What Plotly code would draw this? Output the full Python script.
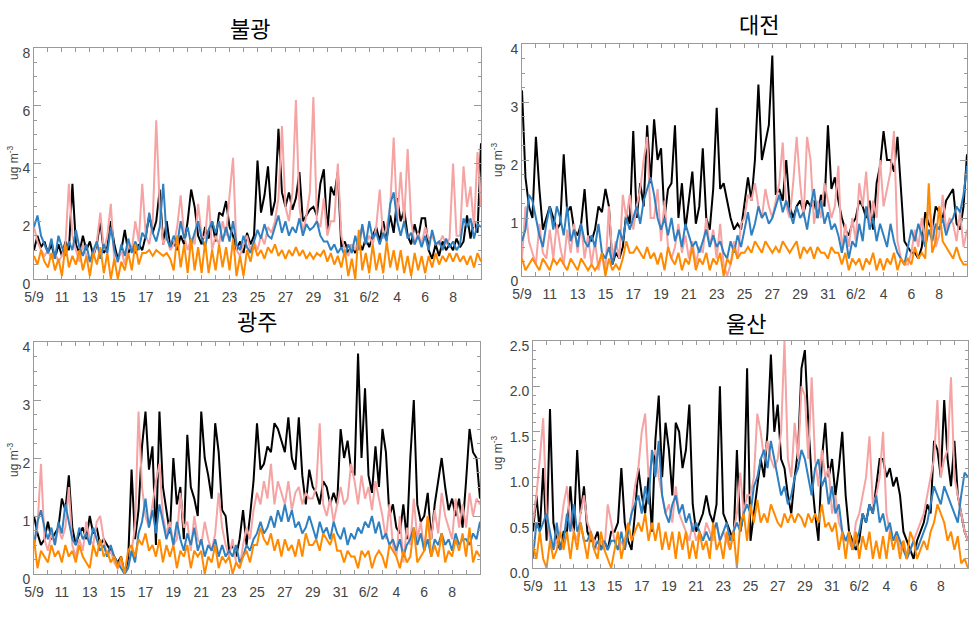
import numpy as np
import plotly.graph_objects as go

# ---------------- data (6-hourly values, starting 5/9 00:00) ----------------
titles = ["불광", "대전", "광주", "울산"]
tick_days = list(range(0, 33))
tick_labels = ["5/9", "", "11", "", "13", "", "15", "", "17", "", "19", "", "21", "", "23", "",
               "25", "", "27", "", "29", "", "31", "", "6/2", "", "4", "", "6", "", "8", "", ""]
colors = {"black": "#000000", "pink": "#F5A3A3", "blue": "#2F80C0", "orange": "#FF8A00"}

bul_black = [1.0, 1.5, 1.1, 1.3, 0.9, 1.2, 0.7, 1.2, 0.8, 1.3, 1.0, 3.3, 1.2, 0.9, 1.5, 1.0,
             1.3, 0.8, 1.2, 2.0, 0.9, 1.1, 2.0, 1.2, 0.7, 1.0, 1.7, 0.9, 1.1, 0.9, 1.2, 1.0,
             1.5, 2.2, 1.6, 2.0, 3.1, 1.2, 2.0, 1.1, 1.3, 1.0, 1.5, 1.2, 2.0, 3.1, 2.5, 1.5,
             1.2, 1.8, 1.4, 2.0, 1.3, 2.3, 2.2, 2.7, 1.8, 1.5, 1.0, 1.3, 0.9, 1.6, 1.2, 1.5,
             4.1, 2.3, 2.9, 3.9, 2.2, 2.7, 5.2, 3.0, 2.5, 3.0, 2.4, 2.8, 3.7, 2.0, 2.2, 2.4,
             2.5, 2.2, 3.3, 3.8, 1.6, 3.2, 2.9, 3.7, 1.1, 1.3, 0.9, 1.2, 0.9, 1.3, 1.0, 1.4,
             1.1, 1.5, 1.8, 1.3, 2.0, 1.4, 2.2, 1.6, 2.8, 2.0, 2.4, 1.5, 1.2, 1.9, 1.4, 2.1,
             2.1, 1.0, 0.7, 1.2, 0.8, 1.3, 1.0, 1.2, 1.0, 1.4, 1.1, 1.3, 2.2, 1.4, 2.0, 1.6,
             4.7]
bul_pink = [1.8, 1.3, 1.0, 0.8, 1.0, 0.7, 0.9, 0.6, 0.8, 1.2, 3.3, 1.5, 1.0, 0.6, 1.2, 0.8,
            0.6, 0.8, 1.3, 2.3, 1.0, 1.5, 2.6, 0.6, 0.6, 1.0, 0.5, 1.2, 1.0, 2.0, 1.3, 3.3,
            1.5, 1.2, 2.0, 5.5, 2.5, 1.2, 1.5, 1.0, 1.2, 1.8, 2.9, 1.5, 1.0, 1.4, 1.2, 2.6,
            1.5, 1.4, 2.9, 1.0, 1.5, 1.2, 2.0, 1.5, 2.9, 4.2, 1.0, 0.8, 1.2, 1.5, 1.0, 1.3,
            1.0, 1.5, 1.2, 1.8, 1.6, 2.0, 2.8, 5.3, 2.5, 2.0, 3.0, 6.2, 2.5, 1.6, 2.2, 3.0,
            6.3, 2.0, 1.8, 2.8, 1.5, 2.0, 2.0, 4.0, 1.5, 1.0, 0.8, 1.2, 1.0, 1.5, 1.8, 1.2,
            1.5, 1.2, 1.8, 3.1, 1.4, 1.8, 2.5, 4.9, 2.0, 3.7, 2.0, 4.5, 2.0, 1.2, 1.6, 1.2,
            1.8, 1.4, 1.5, 1.2, 1.2, 1.5, 1.2, 1.4, 4.0, 1.5, 1.5, 3.9, 2.5, 3.2, 1.8, 4.4,
            2.5]
bul_blue = [1.8, 2.2, 1.5, 1.2, 0.9, 1.4, 0.7, 1.5, 1.1, 0.8, 1.3, 1.0, 1.7, 1.1, 0.8, 1.2,
            0.6, 1.0, 1.3, 0.7, 1.2, 0.9, 1.8, 1.0, 0.6, 1.2, 0.8, 1.4, 0.9, 1.3, 1.0, 1.6,
            1.4, 2.3, 1.6, 1.3, 1.8, 3.3, 1.4, 1.1, 1.5, 1.2, 2.0, 1.4, 1.8, 1.2, 1.6, 2.0,
            1.4, 1.1, 1.7, 2.0, 1.6, 2.0, 1.3, 1.8, 1.3, 2.0, 1.2, 1.0, 1.5, 1.1, 0.9, 1.3,
            1.7, 1.4, 1.9, 1.5, 1.4, 1.8, 2.2, 1.6, 2.0, 1.5, 1.8, 1.6, 2.1, 1.5, 1.9, 1.7,
            1.8, 2.0, 1.5, 1.3, 1.3, 1.0, 1.2, 0.9, 1.1, 0.8, 1.2, 0.9, 1.5, 1.0, 1.9, 1.2,
            2.0, 1.4, 1.6, 1.2, 1.6, 1.3, 2.6, 3.0, 2.0, 1.5, 2.0, 1.4, 1.6, 1.2, 1.5, 1.1,
            1.5, 1.0, 1.7, 1.2, 1.3, 1.0, 1.4, 1.1, 1.3, 1.0, 1.2, 2.1, 1.8, 2.1, 1.4, 1.9,
            1.8]
bul_orange = [0.8, 0.5, 1.0, 0.6, 0.4, 0.9, 0.3, 0.7, 0.1, 1.2, 0.4, 0.8, 0.5, 1.0, 0.3, 0.8,
              0.1, 0.9, 0.5, 1.1, 0.2, 0.9, 0.0, 0.7, 0.0, 0.6, 0.3, 0.9, 0.3, 1.2, 0.5, 0.9,
              0.9, 1.0, 0.8, 1.0, 0.9, 0.8, 0.9, 0.7, 0.3, 1.5, 0.4, 1.2, 0.2, 1.4, 0.3, 1.1,
              0.2, 1.3, 0.2, 1.0, 0.3, 1.2, 0.4, 1.1, 0.3, 1.4, 0.1, 0.8, 0.1, 1.0, 0.6, 1.2,
              0.8, 1.0, 0.7, 1.1, 0.9, 1.2, 0.8, 1.0, 0.7, 1.0, 0.8, 1.1, 0.8, 1.0, 0.7, 0.9,
              0.7, 0.9, 0.8, 1.0, 0.6, 0.9, 0.5, 0.8, 0.4, 1.0, 0.1, 0.7, 0.0, 1.7, 0.3, 0.9,
              0.2, 1.2, 0.3, 0.9, 0.2, 1.3, 0.4, 1.0, 0.3, 1.0, 0.2, 0.8, 0.1, 0.9, 0.3, 0.8,
              0.2, 0.8, 0.4, 0.9, 0.5, 0.8, 0.6, 0.9, 0.6, 0.9, 0.6, 0.8, 0.5, 0.8, 0.4, 0.9,
              0.6]

dae_black = [3.2, 1.7, 1.2, 1.0, 2.4, 1.5, 0.8, 1.0, 1.2, 1.0, 0.8, 0.9, 2.1, 1.1, 1.2, 0.8,
             0.7, 0.9, 1.5, 0.7, 0.6, 0.8, 1.2, 1.1, 1.5, 1.2, 0.2, 0.4, 0.3, 0.5, 1.1, 0.9,
             2.5, 1.0, 1.6, 1.2, 2.6, 1.6, 2.7, 2.0, 2.2, 1.0, 1.5, 1.6, 2.6, 1.0, 1.6, 0.8,
             1.3, 1.8, 0.9, 1.2, 2.2, 1.0, 0.8, 1.5, 2.9, 1.5, 1.6, 1.3, 1.0, 0.8, 0.9, 0.8,
             1.3, 1.7, 1.3, 2.0, 3.3, 2.0, 2.3, 2.6, 3.8, 1.4, 1.5, 1.3, 2.0, 1.2, 1.0, 1.2,
             1.3, 1.1, 1.3, 1.2, 1.3, 1.0, 1.4, 1.2, 2.6, 1.5, 1.7, 1.3, 1.0, 0.8, 0.7, 0.9,
             1.0, 1.3, 1.2, 1.0, 1.3, 0.8, 1.6, 1.9, 2.5, 2.0, 2.0, 1.8, 2.4, 1.5, 0.6, 0.5,
             0.4, 0.4, 0.3, 0.5, 1.1, 0.9, 0.8, 1.2, 1.1, 1.0, 1.3, 1.4, 1.5, 0.9, 0.8, 1.2,
             2.1]
dae_pink = [0.3, 1.2, 0.6, 0.4, 0.2, 0.9, 0.4, 0.3, 0.8, 0.3, 0.9, 0.5, 0.2, 0.8, 0.4, 0.9,
            0.4, 0.9, 0.3, 0.7, 0.2, 0.6, 0.1, 0.4, 0.1, 1.2, 0.3, 0.6, 0.3, 1.4, 1.0, 1.4,
            0.8, 1.2, 1.5, 2.0, 2.4, 1.0, 1.0, 1.5, 0.6, 1.3, 0.5, 0.3, 0.5, 0.9, 0.4, 0.7,
            0.3, 0.6, 0.2, 0.5, 0.4, 1.0, 0.5, 0.8, 0.3, 0.9, 0.2, 0.0, 0.2, 0.6, 0.3, 0.9,
            1.0, 1.4, 1.3, 1.6, 1.2, 1.0, 1.5, 1.2, 1.0, 1.3, 1.6, 2.3, 1.2, 1.0, 1.6, 2.4,
            1.6, 1.0, 2.4, 2.0, 0.9, 1.3, 1.0, 1.6, 1.3, 1.0, 1.2, 1.9, 0.4, 0.9, 0.5, 1.0,
            0.6, 1.6, 1.2, 1.8, 0.9, 1.3, 1.0, 2.0, 1.2, 1.5, 1.8, 2.5, 0.6, 0.3, 0.2, 0.2,
            0.4, 0.8, 0.5, 1.0, 0.6, 1.2, 0.9, 0.5, 0.7, 1.4, 0.8, 1.0, 0.9, 0.6, 1.1, 0.5,
            0.8]
dae_blue = [0.6, 0.8, 1.4, 1.3, 1.0, 0.7, 0.5, 0.9, 1.2, 0.8, 1.2, 1.0, 0.7, 1.2, 0.6, 0.8,
            0.5, 0.9, 0.6, 0.5, 0.7, 0.5, 0.9, 0.4, 0.3, 0.5, 0.2, 0.5, 0.8, 0.6, 1.0, 0.8,
            1.0, 1.2, 0.9, 1.3, 1.5, 1.7, 1.4, 1.0, 0.8, 1.0, 0.7, 1.0, 0.6, 0.8, 0.5, 0.9,
            0.7, 0.5, 0.6, 0.4, 0.6, 0.8, 0.5, 0.7, 0.5, 0.6, 0.4, 0.3, 0.6, 0.4, 0.7, 0.5,
            0.8, 1.1, 0.7, 0.9, 1.2, 1.0, 1.1, 0.9, 1.0, 1.2, 1.4, 1.1, 1.3, 1.1, 0.9, 1.2,
            1.0, 1.1, 0.8, 1.2, 1.5, 1.0, 1.3, 0.9, 1.1, 0.8, 0.9, 0.7, 0.4, 0.7, 0.3, 0.6,
            0.5, 0.9, 0.6, 1.2, 0.8, 1.0, 0.6, 0.9, 0.7, 0.5, 0.9, 0.6, 0.4, 0.3, 0.2, 0.5,
            0.8, 0.6, 0.9, 0.7, 0.5, 0.8, 0.6, 0.9, 0.8, 1.0, 0.7, 0.9, 1.0, 1.2, 1.1, 1.4,
            1.9]
dae_orange = [0.3, 0.1, 0.2, 0.3, 0.2, 0.1, 0.3, 0.2, 0.1, 0.3, 0.2, 0.3, 0.2, 0.1, 0.3, 0.2,
              0.1, 0.3, 0.2, 0.1, 0.2, 0.1, 0.2, 0.4, 0.0, 0.3, 0.1, 0.2, 0.1, 0.3, 0.6, 0.4,
              0.4, 0.5, 0.4, 0.3, 0.5, 0.3, 0.4, 0.2, 0.4, 0.1, 0.5, 0.3, 0.2, 0.4, 0.1, 0.3,
              0.2, 0.5, 0.1, 0.3, 0.2, 0.4, 0.1, 0.3, 0.2, 0.4, 0.0, 0.3, 0.2, 0.5, 0.3, 0.4,
              0.4, 0.5, 0.4, 0.6, 0.5, 0.4, 0.6, 0.5, 0.4, 0.5, 0.4, 0.6, 0.5, 0.4, 0.5, 0.6,
              0.3, 0.5, 0.4, 0.5, 0.3, 0.5, 0.4, 0.4, 0.3, 0.5, 0.4, 0.4, 0.2, 0.4, 0.1, 0.3,
              0.2, 0.3, 0.1, 0.3, 0.2, 0.4, 0.1, 0.3, 0.1, 0.3, 0.2, 0.4, 0.1, 0.3, 0.2, 0.3,
              0.2, 0.5, 0.3, 0.4, 0.3, 1.6, 0.4, 0.6, 1.2, 0.6, 0.5, 0.4, 0.3, 0.5, 0.3, 0.2,
              0.2]

gwa_black = [1.0, 0.7, 0.5, 0.6, 0.9, 0.6, 0.7, 0.8, 1.3, 1.1, 1.7, 0.8, 0.5, 0.7, 0.8, 0.6,
             1.0, 0.7, 0.8, 0.5, 0.6, 0.5, 0.4, 0.3, 0.2, 0.3, 0.0, 0.2, 1.8, 0.6, 1.1, 2.2,
             2.8, 1.8, 2.2, 0.5, 2.8, 1.5, 1.1, 0.7, 2.0, 1.2, 1.5, 0.6, 2.4, 1.5, 1.3, 1.0,
             2.8, 2.0, 1.7, 1.3, 2.6, 2.1, 1.1, 1.0, 0.4, 0.5, 0.3, 0.6, 1.1, 0.5, 1.0, 1.6,
             2.6, 1.8, 1.9, 2.2, 2.1, 2.6, 2.5, 2.3, 2.1, 2.7, 2.0, 1.8, 2.7, 1.7, 1.2, 1.8,
             1.5, 1.4, 1.2, 1.6, 1.5, 1.2, 1.4, 1.2, 2.5, 2.0, 2.3, 1.8, 1.7, 3.8, 2.0, 3.2,
             1.7, 1.4, 2.2, 1.5, 2.5, 2.1, 1.0, 1.2, 0.8, 0.7, 1.2, 0.6, 2.0, 3.0, 1.2, 0.9,
             1.0, 1.4, 0.6, 1.2, 1.6, 2.0, 1.5, 1.1, 1.3, 1.0, 1.3, 0.8, 1.6, 2.5, 2.1, 2.0,
             1.3]
gwa_pink = [0.5, 0.8, 1.9, 0.6, 0.4, 0.7, 0.5, 0.8, 0.6, 0.8, 1.5, 0.5, 0.3, 0.6, 0.4, 0.9,
            0.6, 0.5, 0.9, 1.0, 0.6, 0.3, 0.4, 0.2, 0.1, 0.2, 0.0, 0.1, 0.4, 0.8, 2.8, 1.5,
            1.0, 0.8, 1.2, 1.6, 1.9, 1.0, 0.7, 0.9, 0.5, 0.6, 1.4, 0.8, 0.9, 0.4, 1.0, 0.6,
            0.5, 0.9, 0.6, 0.4, 0.7, 1.4, 0.8, 0.5, 0.3, 0.6, 0.2, 0.1, 0.5, 0.8, 0.6, 1.1,
            1.4, 1.2, 1.6, 1.3, 1.9, 1.2, 1.6, 1.4, 1.2, 1.6, 1.1, 1.4, 1.5, 1.2, 1.4, 1.3,
            1.3, 1.5, 2.6, 1.2, 1.0, 1.3, 0.9, 1.2, 1.5, 1.2, 1.3, 1.9, 1.6, 1.2, 1.7, 1.3,
            1.5, 1.1, 1.6, 1.3, 1.0, 0.6, 1.2, 0.5, 0.3, 1.0, 0.2, 0.8, 0.5, 1.3, 0.6, 0.9,
            0.4, 1.0, 0.6, 1.1, 0.7, 1.4, 1.0, 0.8, 0.6, 1.3, 0.8, 1.2, 0.8, 1.4, 1.0, 1.3,
            1.2]
gwa_blue = [0.5, 0.9, 1.1, 0.8, 0.6, 0.8, 0.5, 0.9, 0.7, 1.2, 0.9, 0.6, 0.5, 0.8, 0.6, 0.7,
            0.5, 0.8, 0.6, 0.4, 0.5, 0.3, 0.5, 0.3, 0.2, 0.1, 0.0, 0.1, 0.4, 0.2, 0.7, 0.9,
            1.3, 0.8, 1.1, 0.7, 1.2, 0.9, 0.6, 0.8, 0.5, 0.9, 0.6, 0.4, 0.7, 0.5, 0.8, 0.4,
            0.6, 0.3, 0.5, 0.4, 0.6, 0.3, 0.5, 0.3, 0.4, 0.3, 0.5, 0.2, 0.3, 0.5, 0.4, 0.6,
            0.7, 0.9, 0.7, 0.8, 1.0, 0.8, 1.1, 0.9, 1.2, 0.9, 1.1, 0.8, 0.9, 0.7, 0.8, 1.0,
            0.8, 0.6, 0.9, 0.7, 0.8, 0.6, 0.9, 0.7, 0.6, 0.8, 0.5, 0.7, 0.6, 0.8, 0.7, 0.9,
            0.8, 1.0, 0.7, 0.9, 0.6, 0.7, 0.5, 0.6, 0.4, 0.6, 0.3, 0.5, 0.6, 0.8, 0.5, 0.7,
            0.4, 0.6, 0.3, 0.6, 0.5, 0.7, 0.5, 0.6, 0.4, 0.7, 0.5, 0.6, 0.6, 0.5, 0.7, 0.6,
            0.9]
gwa_orange = [0.6, 0.1, 0.4, 0.3, 0.2, 0.5, 0.3, 0.4, 0.2, 0.5, 0.3, 0.4, 0.2, 0.5, 0.3, 0.2,
              0.1, 0.5, 0.3, 0.6, 0.3, 0.4, 0.2, 0.3, 0.1, 0.3, 0.0, 0.4, 0.5, 0.3, 0.6, 0.5,
              0.7, 0.4, 0.5, 0.3, 0.6, 0.2, 0.5, 0.3, 0.5, 0.1, 0.4, 0.3, 0.5, 0.1, 0.4, 0.3,
              0.4, 0.0, 0.3, 0.2, 0.5, 0.1, 0.3, 0.2, 0.3, 0.0, 0.2, 0.1, 0.3, 0.4, 0.2, 0.5,
              0.5, 0.8, 0.6, 0.5, 0.7, 0.4, 0.6, 0.3, 0.6, 0.4, 0.5, 0.3, 0.6, 0.3, 0.7, 0.5,
              0.5, 0.6, 0.4, 0.7, 0.6, 0.5, 0.7, 0.4, 0.4, 0.2, 0.4, 0.3, 0.3, 0.1, 0.4, 0.3,
              0.4, 0.1, 0.3, 0.4, 0.3, 0.1, 0.5, 0.4, 0.3, 0.1, 0.4, 0.2, 0.3, 0.8, 0.2, 0.3,
              0.4, 1.0, 0.3, 0.5, 0.3, 0.7, 0.2, 0.4, 0.3, 0.6, 0.4, 0.7, 0.3, 0.8, 0.2, 0.4,
              0.3]

uls_black = [0.4, 0.8, 0.4, 1.1, 0.3, 1.75, 0.5, 0.3, 0.2, 0.4, 0.4, 0.9, 0.4, 1.3, 0.6, 0.9,
             0.4, 0.3, 0.3, 0.4, 0.2, 0.3, 0.2, 0.4, 0.4, 0.5, 1.1, 0.5, 0.3, 0.2, 0.6, 1.1,
             0.8, 0.6, 1.0, 0.4, 1.4, 1.9, 1.0, 1.6, 1.3, 0.8, 1.6, 1.5, 1.1, 1.3, 1.8, 0.7,
             0.4, 0.5, 0.6, 0.8, 0.6, 0.5, 0.7, 2.0, 0.6, 0.5, 0.4, 0.3, 1.3, 0.4, 0.6, 2.2,
             0.3, 0.6, 0.9, 1.2, 1.0, 1.5, 2.35, 1.5, 1.8, 1.2, 1.1, 0.8, 0.6, 1.0, 1.3, 2.2,
             2.4, 1.6, 1.0, 0.6, 0.3, 1.2, 1.6, 1.0, 1.2, 0.8, 1.1, 1.5, 0.8, 0.4, 0.3, 0.2,
             0.3, 0.6, 0.5, 0.7, 0.6, 0.9, 1.2, 1.2, 1.0, 1.1, 0.9, 1.0, 0.8, 0.4, 0.3, 0.2,
             0.1, 0.3, 0.4, 0.5, 0.7, 0.6, 1.4, 1.3, 1.0, 1.85, 1.2, 0.9, 1.4, 0.8, 0.6, 0.4,
             0.3]
uls_pink = [0.5, 0.8, 1.2, 1.65, 0.6, 0.3, 0.2, 0.3, 0.4, 0.7, 0.9, 0.5, 0.4, 0.3, 0.6, 0.8,
            0.5, 0.4, 0.3, 0.2, 0.3, 0.2, 0.7, 0.5, 0.3, 0.2, 0.3, 0.2, 0.4, 0.6, 0.9, 1.1,
            1.5, 1.7, 1.0, 1.2, 1.3, 1.0, 0.8, 0.6, 0.7, 0.5, 0.9, 0.6, 0.5, 0.4, 0.3, 0.5,
            0.3, 0.4, 0.3, 0.5, 0.4, 0.3, 0.5, 0.3, 0.4, 0.3, 0.2, 0.4, 0.6, 1.05, 0.6, 0.8,
            0.8, 1.0, 1.7, 1.5, 1.2, 1.4, 1.2, 1.1, 1.2, 1.5, 2.5, 1.2, 1.0, 1.6, 1.2, 2.0,
            1.9, 1.2, 2.1, 1.2, 0.9, 1.3, 1.0, 1.1, 0.6, 0.8, 0.5, 0.4, 0.3, 0.3, 0.2, 0.5,
            0.6, 0.8, 1.0, 1.45, 0.7, 0.8, 1.0, 1.5, 0.6, 0.4, 0.3, 0.4, 0.2, 0.3, 0.1, 0.2,
            0.3, 0.4, 0.5, 0.6, 0.8, 1.0, 1.2, 1.85, 1.0, 1.2, 1.3, 2.1, 1.0, 0.8, 0.6, 0.4,
            0.3]
uls_blue = [0.1, 0.5, 0.4, 0.5, 0.6, 0.4, 0.2, 0.5, 0.2, 0.3, 0.6, 0.4, 0.7, 0.4, 0.5, 0.3,
            0.3, 0.4, 0.2, 0.3, 0.2, 0.3, 0.2, 0.3, 0.3, 0.2, 0.4, 0.2, 0.4, 0.6, 0.7, 0.8,
            0.6, 0.9, 0.7, 1.3, 1.0, 1.4, 0.8, 0.6, 0.5, 0.7, 0.8, 0.6, 0.7, 0.5, 0.6, 0.4,
            0.5, 0.4, 0.3, 0.4, 0.3, 0.4, 0.5, 0.3, 0.4, 0.5, 0.3, 0.4, 0.5, 0.4, 0.6, 0.7,
            0.6, 0.9, 1.0, 1.2, 1.3, 1.1, 1.4, 1.2, 1.0, 0.8, 0.9, 0.7, 0.8, 1.0, 1.1, 1.3,
            1.2, 1.0, 0.8, 1.1, 1.2, 0.9, 1.0, 0.7, 0.9, 0.6, 0.7, 0.4, 0.3, 0.4, 0.2, 0.3,
            0.4, 0.6, 0.5, 0.7, 0.6, 0.8, 0.5, 0.6, 0.4, 0.5, 0.3, 0.4, 0.3, 0.2, 0.1, 0.2,
            0.3, 0.2, 0.3, 0.4, 0.5, 0.7, 0.9, 0.8, 0.7, 0.9, 0.8, 0.7, 0.6, 0.5, 0.8, 1.05,
            1.0]
uls_orange = [0.25, 0.1, 0.4, 0.1, 0.0, 0.3, 0.1, 0.2, 0.4, 0.2, 0.4, 0.1, 0.4, 0.2, 0.5, 0.3,
              0.1, 0.4, 0.2, 0.1, 0.4, 0.2, 0.1, 0.0, 0.2, 0.4, 0.1, 0.3, 0.5, 0.3, 0.4, 0.5,
              0.4, 0.6, 0.3, 0.5, 0.3, 0.5, 0.2, 0.4, 0.2, 0.4, 0.1, 0.4, 0.2, 0.4, 0.1, 0.3,
              0.1, 0.4, 0.2, 0.3, 0.1, 0.5, 0.2, 0.3, 0.1, 0.4, 0.2, 0.4, 0.0, 0.5, 0.6, 0.3,
              0.7, 0.5, 0.75, 0.5, 0.6, 0.5, 0.7, 0.6, 0.5, 0.45, 0.6, 0.5, 0.6, 0.5, 0.6, 0.55,
              0.45, 0.6, 0.5, 0.6, 0.5, 0.7, 0.45, 0.5, 0.4, 0.5, 0.2, 0.4, 0.1, 0.4, 0.2, 0.4,
              0.1, 0.35, 0.2, 0.4, 0.1, 0.3, 0.1, 0.35, 0.1, 0.4, 0.2, 0.35, 0.1, 0.3, 0.1, 0.4,
              0.3, 0.1, 0.2, 0.3, 0.2, 0.4, 0.5, 0.7, 0.6, 0.5, 0.3, 0.4, 0.2, 0.35, 0.05, 0.1,
              0.0]

panels = [
    dict(title=titles[0], series=[bul_black, bul_pink, bul_blue, bul_orange], yrange=[0, 8], dtick=2, minor=0.5, fmt="d"),
    dict(title=titles[1], series=[dae_black, dae_pink, dae_blue, dae_orange], yrange=[0, 4], dtick=1, minor=0.25, fmt="d"),
    dict(title=titles[2], series=[gwa_black, gwa_pink, gwa_blue, gwa_orange], yrange=[0, 4], dtick=1, minor=0.25, fmt="d"),
    dict(title=titles[3], series=[uls_black, uls_pink, uls_blue, uls_orange], yrange=[0, 2.5], dtick=0.5, minor=0.1, fmt=".1f"),
]

# ---------------- layout geometry (pixels) ----------------
W, H = 974, 636
boxes = [(34, 481, 48, 279), (522, 967, 44, 276), (34, 480, 342, 574), (533, 968, 341, 568)]
title_pos = [(250, 27), (759, 23), (257, 320), (746, 322)]
ylab_pos = [(13, 163), (497, 160), (13, 460), (497, 453)]

fig = go.Figure()
order = ["black", "pink", "blue", "orange"]
axis_color = "#9a9a9a"
tickfont = dict(family="Liberation Sans, Arial, sans-serif", size=14, color="#444444")

layout = dict(width=W, height=H, margin=dict(l=0, r=0, t=0, b=0, autoexpand=False), autosize=False,
              paper_bgcolor="white", plot_bgcolor="white", showlegend=False)
annotations = []
for i, p in enumerate(panels):
    n = "" if i == 0 else str(i + 1)
    for name, vals in zip(order, p["series"]):
        days = np.arange(len(vals)) * 0.25
        fig.add_trace(go.Scatter(x=days, y=vals, mode="lines",
                                 line=dict(color=colors[name], width=2),
                                 xaxis="x" + n, yaxis="y" + n, hoverinfo="skip"))
    x0, x1, y0, y1 = boxes[i]
    layout["xaxis" + n] = dict(domain=[x0 / W, x1 / W], range=[0, 32], anchor="y" + n,
                               tickmode="array", tickvals=tick_days, ticktext=tick_labels,
                               ticks="inside", ticklen=4, tickcolor=axis_color, mirror="allticks",
                               showline=True, linecolor=axis_color, linewidth=1, automargin=False,
                               ticklabelstandoff=5,
                               showgrid=False, zeroline=False, tickfont=tickfont)
    layout["yaxis" + n] = dict(domain=[1 - y1 / H, 1 - y0 / H], range=p["yrange"], anchor="x" + n,
                               tickmode="linear", tick0=0, dtick=p["dtick"], tickformat=p["fmt"],
                               ticks="inside", ticklen=7, tickcolor=axis_color, mirror="allticks",
                               minor=dict(dtick=p["minor"], ticks="inside", ticklen=3, tickcolor=axis_color),
                               showline=True, linecolor=axis_color, linewidth=1, automargin=False,
                               ticklabelshift=5,
                               showgrid=False, zeroline=False, tickfont=tickfont)
    tx, ty = title_pos[i]
    annotations.append(dict(text=p["title"], x=tx / W, y=1 - ty / H, xref="paper", yref="paper",
                            showarrow=False, xanchor="center", yanchor="middle",
                            font=dict(family="Noto Sans CJK KR", size=22, color="black")))
    lx, ly = ylab_pos[i]
    annotations.append(dict(text="ug m<sup>-3</sup>", x=lx / W, y=1 - ly / H, xref="paper", yref="paper",
                            showarrow=False, textangle=-90, xanchor="center", yanchor="middle",
                            font=dict(family="Liberation Sans, Arial, sans-serif", size=12, color="#444444")))
layout["annotations"] = annotations
fig.update_layout(**layout)
fig.write_html("out.html", config={"displayModeBar": False},
               post_script="document.body.style.margin='0';document.body.style.overflow='hidden';")
